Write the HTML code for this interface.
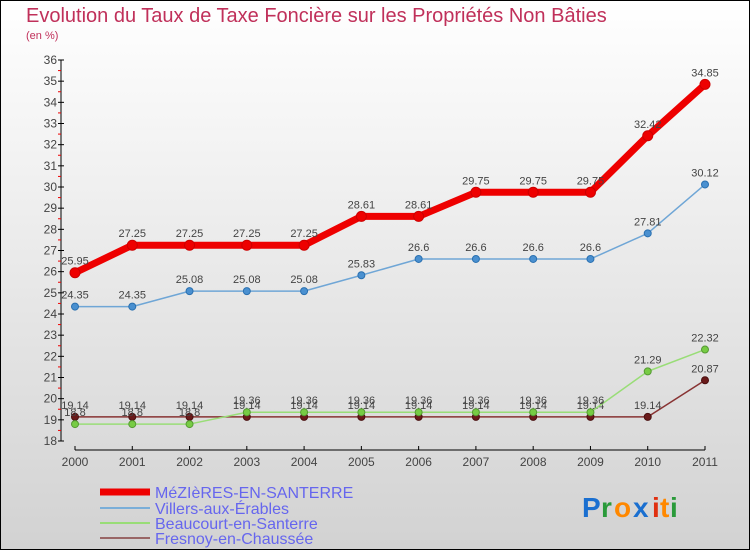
<!DOCTYPE html>
<html><head><meta charset="utf-8"><style>
html,body{margin:0;padding:0}
body{width:750px;height:550px;overflow:hidden;font-family:"Liberation Sans",sans-serif}
</style></head><body>
<svg id="c" width="750" height="550" xmlns="http://www.w3.org/2000/svg">
<defs><linearGradient id="bg" x1="0" y1="0" x2="0" y2="1"><stop offset="0" stop-color="#ffffff"/><stop offset="1" stop-color="#d2d2d2"/></linearGradient></defs>
<rect x="0.5" y="0.5" width="749" height="549" fill="url(#bg)" stroke="#000"/>
<text x="26" y="22" font-size="20" fill="#c0305a">Evolution du Taux de Taxe Foncière sur les Propriétés Non Bâties</text>
<text x="26" y="39" font-size="11" fill="#c0305a">(en %)</text>
<g id="axes"></g><g id="series"></g>
<g>
<line x1="100" y1="492" x2="150" y2="492" stroke="#e00" stroke-width="7"/>
<text x="155" y="498" font-size="16" fill="#6666ee">MéZIèRES-EN-SANTERRE</text>
<line x1="100" y1="508" x2="150" y2="508" stroke="#7aaed8" stroke-width="2"/>
<text x="155" y="514" font-size="16" fill="#6666ee">Villers-aux-Érables</text>
<line x1="100" y1="523" x2="150" y2="523" stroke="#99dd77" stroke-width="2"/>
<text x="155" y="529" font-size="16" fill="#6666ee">Beaucourt-en-Santerre</text>
<line x1="100" y1="538" x2="150" y2="538" stroke="#996666" stroke-width="2"/>
<text x="155" y="544" font-size="16" fill="#6666ee">Fresnoy-en-Chaussée</text>
</g>
<g font-size="28" font-weight="bold">
<text x="582" y="517" fill="#1a6fd0">P</text><text x="601" y="517" fill="#2a9a3a">r</text><text x="614" y="517" fill="#ff8800">o</text><text x="633" y="517" fill="#1a6fd0">x</text><text x="652" y="517" fill="#e03010">i</text><text x="660" y="517" fill="#ff8800">t</text><text x="670" y="517" fill="#2a9a3a">i</text>
</g>
</svg>
<script>
const years=["2000","2001","2002","2003","2004","2005","2006","2007","2008","2009","2010","2011"];
const mezieres=[25.95,27.25,27.25,27.25,27.25,28.61,28.61,29.75,29.75,29.75,32.42,34.85];
const villers=[24.35,24.35,25.08,25.08,25.08,25.83,26.6,26.6,26.6,26.6,27.81,30.12];
const beaucourt=[18.8,18.8,18.8,19.36,19.36,19.36,19.36,19.36,19.36,19.36,21.29,22.32];
const fresnoy=[19.14,19.14,19.14,19.14,19.14,19.14,19.14,19.14,19.14,19.14,19.14,20.87];
const yTicks=[18,19,20,21,22,23,24,25,26,27,28,29,30,31,32,33,34,35,36];
const NS="http://www.w3.org/2000/svg";
const yMin=18,yMax=36,yTop=60,yBot=441;
const X=i=>75+i*(630/11);
const Y=v=>yBot-(v-yMin)/(yMax-yMin)*(yBot-yTop);
function mk(t,a,p){const e=document.createElementNS(NS,t);for(const k in a)e.setAttribute(k,a[k]);p.appendChild(e);return e;}
const ax=document.getElementById('axes');
const yl=mk('line',{x1:61,y1:yTop,x2:61,y2:yBot,stroke:'#000','stroke-width':1},ax);


yTicks.forEach((t,i)=>{
 const y=Y(t);
 mk('line',{x1:58,y1:y,x2:64,y2:y,stroke:'#000'},ax);
 if(i<yTicks.length-1) mk('line',{x1:58,y1:Y(t+0.5),x2:61,y2:Y(t+0.5),stroke:'#e00'},ax);
 const tx=mk('text',{x:57,y:y+4,'font-size':12,fill:'#444','text-anchor':'end'},ax);
 tx.textContent=t;
 
 
});
const xl=mk('line',{x1:75,y1:450,x2:705,y2:450,stroke:'#000','stroke-width':1},ax);


years.forEach((yr,i)=>{
 mk('line',{x1:X(i),y1:446,x2:X(i),y2:450,stroke:'#000'},ax);
 const tx=mk('text',{x:X(i),y:466,'font-size':12,fill:'#444','text-anchor':'middle'},ax);
 tx.textContent=yr;
 
 
});
const sg=document.getElementById('series');
function draw(data,name,color,w,dot,dotStroke,r){
 const g=mk('g',{},sg);
 
 
 const p=mk('polyline',{points:data.map((v,i)=>X(i)+','+Y(v)).join(' '),fill:'none',stroke:color,'stroke-width':w,'stroke-linejoin':'round'},g);
 
 
 data.forEach((v,i)=>{
  const c=mk('circle',{cx:X(i),cy:Y(v),r:r,fill:dot,stroke:dotStroke,'stroke-width':1},g);
  
  
  const t=mk('text',{x:X(i),y:Y(v)-8,'font-size':11,fill:'#444','text-anchor':'middle'},g);
  t.textContent=v;
  
  
 });
}
draw(fresnoy,'fresnoy','#883333',1.5,'#6a1a1a','#4a1010',3.5);
draw(beaucourt,'beaucourt','#99dd77',1.5,'#77cc44','#559933',3.5);
draw(villers,'villers','#6fa6d6',1.5,'#4a90d0','#2a70b0',3.5);
draw(mezieres,'mezieres','#ee0000',7,'#ee0000','#cc0000',5);
</script>
</body></html>
